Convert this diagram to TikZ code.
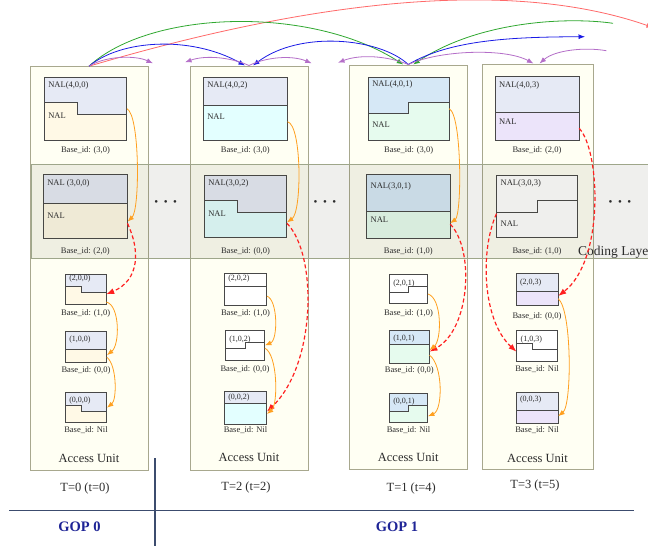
\documentclass[tikz,border=0pt]{standalone}
\usepackage{fontspec}
\setmainfont{Liberation Serif}
\usetikzlibrary{arrows.meta,positioning,fit}

\definecolor{auFill}{HTML}{FFFFF3}
\definecolor{auLine}{HTML}{A8A88E}
\definecolor{bandFill}{RGB}{60,60,30}
\definecolor{bandLine}{HTML}{9EA68A}
\definecolor{boxGray}{HTML}{484848}
\definecolor{txtGray}{HTML}{2C2C2C}
\definecolor{hdBlue}{HTML}{E6EAF5}
\definecolor{hdSky}{HTML}{D6E8F6}
\definecolor{plCream}{HTML}{FFF9E6}
\definecolor{plCyan}{HTML}{E3FFFF}
\definecolor{plMint}{HTML}{E6FBEE}
\definecolor{plLilac}{HTML}{ECE4FA}
\definecolor{arcRed}{HTML}{FF6A6A}
\definecolor{arcGreen}{HTML}{30A830}
\definecolor{arcBlue}{HTML}{1A1AE6}
\definecolor{arcPurple}{HTML}{B46EC8}
\definecolor{depOrange}{HTML}{FFA020}
\definecolor{depRed}{HTML}{FF2020}
\definecolor{gopBlue}{HTML}{1E2496}
\definecolor{gopLine}{HTML}{3C4C6E}

\tikzset{>={Latex[length=6.5pt,width=5pt]}}
\tikzset{
  aubox/.style={draw=auLine, fill=auFill, line width=1pt, inner sep=0pt},
  boxline/.style={draw=boxGray, line width=0.8pt},
  ttl/.style={font=\fontsize{8.5}{9}\selectfont, text=txtGray, inner sep=0pt},
  sttl/.style={font=\fontsize{8}{9}\selectfont, text=txtGray, inner sep=0pt},
  bid/.style={font=\fontsize{8.5}{9}\selectfont, text=txtGray, inner sep=0pt},
  autext/.style={font=\fontsize{12.5}{14}\selectfont, text=txtGray, inner sep=0pt},
  dots/.style={font=\fontsize{11}{12}\selectfont, text=txtGray, inner sep=0pt},
  arc/.style={line width=0.8pt},
  dep/.style={draw=depOrange, line width=0.8pt},
  rdep/.style={draw=depRed, line width=1.2pt, dash pattern=on 4pt off 2.5pt, -{Latex[length=8pt,width=6pt]}},
  gopline/.style={draw=gopLine, line width=1.2pt},
  gop/.style={font=\fontsize{14.5}{16}\selectfont\bfseries, text=gopBlue, inner sep=0pt}
}

% name, x1, y1, x2, y2, left divider y, step x, right divider y, top/bottom colours
\newcommand{\nalbox}[9]{%
  \foreach \tc/\bc in {#9}{%
    \fill[fill=\bc] (#2,#3) rectangle (#4,#5);
    \fill[fill=\tc] (#2,#3) -- (#4,#3) -- (#4,#8) -- (#7,#8) -- (#7,#6) -- (#2,#6) -- cycle;
  }
  \draw[boxline] (#2,#6) -- (#7,#6) -- (#7,#8) -- (#4,#8);
  \draw[boxline] (#2,#3) rectangle (#4,#5);
  \node[fit={(#2,#3) (#4,#5)}, inner sep=0pt] (#1) {};
}

\begin{document}
\begin{tikzpicture}[x=1pt,y=-1pt]
  \clip (0,0) rectangle (648,546);
  \fill[white] (0,0) rectangle (648,546);

  % Access units
  \node[aubox, fit={(30,66.7) (148,470.7)}] (au0) {};
  \node[aubox, fit={(190,66) (308,470)}] (au2) {};
  \node[aubox, fit={(349,65) (467.5,469)}] (au1) {};
  \node[aubox, fit={(482,64) (593,469)}] (au3) {};

  % NAL units, T=0
  \nalbox{b400}{44.3}{77.3}{126.7}{140}{102.3}{77.7}{114.3}{hdBlue/plCream}
  \nalbox{b300}{43.3}{174.3}{127.3}{238.3}{203.3}{43.3}{203.3}{hdBlue/plCream}
  \nalbox{b200}{65.3}{274}{106}{304.3}{286.7}{81}{292.7}{hdBlue/plCream}
  \nalbox{b100}{65.3}{331}{106.7}{362.3}{349}{65.3}{349}{hdBlue/plCream}
  \nalbox{b000}{65.3}{392.7}{106.7}{422.7}{405.7}{81}{411.7}{hdBlue/plCream}
  % T=2
  \nalbox{b402}{203.3}{77.3}{287.3}{140.3}{105}{203.3}{105}{hdBlue/plCyan}
  \nalbox{b302}{204.3}{175.7}{286.7}{237.3}{200.3}{237.3}{212.7}{hdBlue/plCyan}
  \nalbox{b202}{224.3}{273.3}{266.7}{305}{286.7}{224.3}{286.7}{white/white}
  \nalbox{b102}{225.3}{330.7}{264.7}{360}{348.3}{245.3}{342.7}{white/white}
  \nalbox{b002}{224.3}{391.7}{266.7}{424}{403.3}{224.3}{403.3}{hdBlue/plCyan}
  % T=1
  \nalbox{b401}{368.3}{77.3}{449}{140}{113.3}{408.3}{102.3}{hdSky/plMint}
  \nalbox{b301}{366.7}{174.3}{450}{238.3}{211}{366.7}{211}{hdSky/plMint}
  \nalbox{b201}{389.3}{274.3}{427.7}{303.3}{292.3}{408.3}{286.7}{white/white}
  \nalbox{b101}{389.3}{330.7}{429.3}{363.3}{344.3}{389.3}{344.3}{hdSky/plMint}
  \nalbox{b001}{389.3}{393.3}{427.7}{422.7}{411.7}{408.3}{405.7}{hdSky/plMint}
  % T=3
  \nalbox{b403}{495}{76.7}{579}{140.7}{112.7}{495}{112.7}{hdBlue/plLilac}
  \nalbox{b303}{496.7}{175.7}{577.3}{237.3}{212.7}{537.3}{200.7}{white/white}
  \nalbox{b203}{516}{273.3}{558}{305}{291.7}{516}{291.7}{hdBlue/plLilac}
  \nalbox{b103}{516.7}{330.7}{557.3}{361}{343.3}{532.7}{349.3}{white/white}
  \nalbox{b003}{516}{392}{558}{423.3}{410.7}{516}{410.7}{hdBlue/plLilac}

  % Coding layer
  \fill[bandFill, opacity=0.08] (31,164.3) rectangle (660,258.5);
  \draw[bandLine, line width=0.8pt] (31,164.3) rectangle (660,258.5);
  \node[font=\fontsize{13.5}{15}\selectfont, text=txtGray, inner sep=0pt, anchor=base west] (cl) at (578,255) {Coding Layer};

  % Labels, T=0
  \node[ttl, anchor=west] (t400) at ([xshift=4pt,yshift=-8.4pt]b400.north west) {NAL(4,0,0)};
  \node[ttl, anchor=west] (n400) at ([xshift=4pt,yshift=-7pt]b400.west) {NAL};
  \node[bid, below=5.9pt of b400] (i400) {Base\_id: (3,0)};
  \node[ttl, anchor=west] (t300) at ([xshift=4pt,yshift=-9pt]b300.north west) {NAL (3,0,0)};
  \node[ttl, anchor=west] (n300) at ([xshift=4pt,yshift=-9pt]b300.west) {NAL};
  \node[bid, below=9.3pt of b300] (i300) {Base\_id: (2,0)};
  \node[sttl, anchor=west] (t200) at ([xshift=4pt,yshift=-5pt]b200.north west) {(2,0,0)};
  \node[bid, below=4.9pt of b200] (i200) {Base\_id: (1,0)};
  \node[sttl, anchor=west] (t100) at ([xshift=4pt,yshift=-9pt]b100.north west) {(1,0,0)};
  \node[bid, below=3.6pt of b100] (i100) {Base\_id: (0,0)};
  \node[sttl, anchor=west] (t000) at ([xshift=4pt,yshift=-8pt]b000.north west) {(0,0,0)};
  \node[bid, below=3.9pt of b000] (i000) {Base\_id: Nil};

  % Labels, T=2
  \node[ttl, anchor=west] (t402) at ([xshift=4pt,yshift=-8.4pt]b402.north west) {NAL(4,0,2)};
  \node[ttl, anchor=west] (n402) at ([xshift=4pt,yshift=-8pt]b402.west) {NAL};
  \node[bid, below=5.6pt of b402] (i402) {Base\_id: (3,0)};
  \node[ttl, anchor=west] (t302) at ([xshift=4pt,yshift=-8.3pt]b302.north west) {NAL(3,0,2)};
  \node[ttl, anchor=west] (n302) at ([xshift=4pt,yshift=-7pt]b302.west) {NAL};
  \node[bid, below=10.3pt of b302] (i302) {Base\_id: (0,0)};
  \node[sttl, anchor=west] (t202) at ([xshift=4pt,yshift=-5.7pt]b202.north west) {(2,0,2)};
  \node[bid, below=4.2pt of b202] (i202) {Base\_id: (1,0)};
  \node[sttl, anchor=west] (t102) at ([xshift=4pt,yshift=-8.6pt]b102.north west) {(1,0,2)};
  \node[bid, below=5.2pt of b102] (i102) {Base\_id: (0,0)};
  \node[sttl, anchor=west] (t002) at ([xshift=4pt,yshift=-5.6pt]b002.north west) {(0,0,2)};
  \node[bid, below=2.6pt of b002] (i002) {Base\_id: Nil};

  % Labels, T=1
  \node[ttl, anchor=west] (t401) at ([xshift=4pt,yshift=-7.7pt]b401.north west) {NAL(4,0,1)};
  \node[ttl, anchor=west] (n401) at ([xshift=4pt,yshift=-16pt]b401.west) {NAL};
  \node[bid, below=6.6pt of b401] (i401) {Base\_id: (3,0)};
  \node[ttl, anchor=west] (t301) at ([xshift=4pt,yshift=-12.4pt]b301.north west) {NAL(3,0,1)};
  \node[ttl, anchor=west] (n301) at ([xshift=4pt,yshift=-13pt]b301.west) {NAL};
  \node[bid, below=9.3pt of b301] (i301) {Base\_id: (1,0)};
  \node[sttl, anchor=west] (t201) at ([xshift=4pt,yshift=-9pt]b201.north west) {(2,0,1)};
  \node[bid, below=5.9pt of b201] (i201) {Base\_id: (1,0)};
  \node[sttl, anchor=west] (t101) at ([xshift=4pt,yshift=-7.6pt]b101.north west) {(1,0,1)};
  \node[bid, below=3.3pt of b101] (i101) {Base\_id: (0,0)};
  \node[sttl, anchor=west] (t001) at ([xshift=4pt,yshift=-8.3pt]b001.north west) {(0,0,1)};
  \node[bid, below=3.9pt of b001] (i001) {Base\_id: Nil};

  % Labels, T=3
  \node[ttl, anchor=west] (t403) at ([xshift=4pt,yshift=-9pt]b403.north west) {NAL(4,0,3)};
  \node[ttl, anchor=west] (n403) at ([xshift=4pt,yshift=-13pt]b403.west) {NAL};
  \node[bid, below=5.9pt of b403] (i403) {Base\_id: (2,0)};
  \node[ttl, anchor=west] (t303) at ([xshift=4pt,yshift=-7.6pt]b303.north west) {NAL(3,0,3)};
  \node[ttl, anchor=west] (n303) at ([xshift=4pt,yshift=-17pt]b303.west) {NAL};
  \node[bid, below=10.3pt of b303] (i303) {Base\_id: (1,0)};
  \node[sttl, anchor=west] (t203) at ([xshift=4pt,yshift=-9pt]b203.north west) {(2,0,3)};
  \node[bid, below=6.9pt of b203] (i203) {Base\_id: (0,0)};
  \node[sttl, anchor=west] (t103) at ([xshift=4pt,yshift=-9.3pt]b103.north west) {(1,0,3)};
  \node[bid, below=4.2pt of b103] (i103) {Base\_id: Nil};
  \node[sttl, anchor=west] (t003) at ([xshift=4pt,yshift=-7.3pt]b003.north west) {(0,0,3)};
  \node[bid, below=3.3pt of b003] (i003) {Base\_id: Nil};

  % Access unit captions
  \node[autext, anchor=base] (a0) at ([yshift=8.7pt]au0.south) {Access Unit};
  \node[autext, anchor=base] (a2) at ([yshift=8.7pt]au2.south) {Access Unit};
  \node[autext, anchor=base] (a1) at ([yshift=8pt]au1.south) {Access Unit};
  \node[autext, anchor=base] (a3) at ([yshift=7.5pt]au3.south) {Access Unit};

  % Dots
  \node[dots] (d1) at (165.7,203.3) {\textbullet\hspace{5.5pt}\textbullet\hspace{5.5pt}\textbullet};
  \node[dots] (d2) at (325,203.3) {\textbullet\hspace{5.5pt}\textbullet\hspace{5.5pt}\textbullet};
  \node[dots] (d3) at (620,203.3) {\textbullet\hspace{5.5pt}\textbullet\hspace{5.5pt}\textbullet};

  % Free ends of references
  \coordinate (nx0) at (653,27.5);
  \coordinate (gr1) at (613,23.3);
  \coordinate (bl1) at (585,36.7);
  \coordinate (pu1) at (153,63.3);
  \coordinate (pu2) at (185,62.3);
  \coordinate (pu3) at (311.7,63.3);
  \coordinate (pu4) at (338,62.7);
  \coordinate (pu5) at (606.3,50.7);

  % Temporal references
  \draw[arc, arcRed, ->] (au0.north) .. controls (290,6.7) and (500,-26) .. (nx0);
  \draw[arc, arcGreen, ->] (au0.north) .. controls (150,10) and (310,5) .. ([xshift=-5pt]au1.north);
  \draw[arc, arcGreen, ->] (gr1) .. controls (570,17) and (480,20) .. ([xshift=5pt]au1.north);
  \draw[arc, arcBlue, ->] (au0.north) .. controls (120,40) and (190,35) .. ([xshift=-4pt]au2.north);
  \draw[arc, arcBlue, ->] (au1.north) .. controls (380,38) and (300,30) .. ([xshift=4pt]au2.north);
  \draw[arc, arcBlue, ->] (au1.north) .. controls (450,40) and (510,37) .. (bl1);
  \draw[arc, arcPurple, ->] (au0.north) .. controls (105,56) and (135,55) .. (pu1);
  \draw[arc, arcPurple, ->] (au2.north) .. controls (230,57) and (205,55) .. (pu2);
  \draw[arc, arcPurple, ->] (au2.north) .. controls (266,57) and (292,55) .. (pu3);
  \draw[arc, arcPurple, ->] (au1.north) .. controls (388,56) and (360,54) .. (pu4);
  \draw[arc, arcPurple, ->] (au1.north) .. controls (440,50) and (505,48) .. ([xshift=-4pt]au3.north);
  \draw[arc, arcPurple, ->] (pu5) .. controls (585,47) and (555,50) .. ([xshift=2pt]au3.north);

  % Base layer dependencies
  \draw[dep, ->] (b400.east) .. controls (140,115) and (140,210) .. (b300.-20);
  \draw[rdep] (b300.-22) .. controls (140,250) and (140,280) .. (b200.-14);
  \draw[dep, ->] (b200.-32) .. controls (120,305) and (120,345) .. (b100.-22);
  \draw[dep, ->] (b100.-27) .. controls (117,365) and (117,400) .. (b000.east);

  \draw[dep, ->] (b402.-17) .. controls (302,125) and (302,212) .. (b302.-21);
  \draw[rdep] (b302.-22) .. controls (318,255) and (316,365) .. (b002.-10);
  \draw[dep, ->] (b202.-18) .. controls (278,300) and (278,340) .. (b102.east);
  \draw[dep, ->] (b102.-8) .. controls (278,355) and (278,405) .. (b002.-16);

  \draw[dep, ->] (b401.east) .. controls (462,115) and (462,215) .. (b301.-22);
  \draw[rdep] (b301.-23) .. controls (475,250) and (470,330) .. (b101.-13);
  \draw[dep, ->] (b201.-15) .. controls (442,298) and (442,340) .. (b101.-9);
  \draw[dep, ->] (b101.-22) .. controls (443,365) and (443,410) .. (b001.-23);

  \draw[rdep] (b403.-25) .. controls (600,150) and (605,260) .. (b203.-18);
  \draw[rdep] (b303.190) .. controls (480,250) and (482,320) .. (b103.196);
  \draw[dep, ->] (b203.-24) .. controls (572,310) and (572,405) .. (b003.-22);

  % Time stamps and GOPs
  \node[autext, below=11pt of au0, xshift=-4pt] (tm0) {T=0 (t=0)};
  \node[autext, below=11pt of au2, xshift=-3pt] (tm2) {T=2 (t=2)};
  \node[autext, below=13pt of au1, xshift=3pt] (tm1) {T=1 (t=4)};
  \node[autext, below=10pt of au3, xshift=-2.5pt] (tm3) {T=3 (t=5)};

  \draw[gopline] (9,510.7) -- (634,510.7);
  \draw[gopline] (155,458) -- (155,546);
  \node[gop] (g0) at (79.5,527) {GOP 0};
  \node[gop] (g1) at (397,527) {GOP 1};
\end{tikzpicture}
\end{document}
